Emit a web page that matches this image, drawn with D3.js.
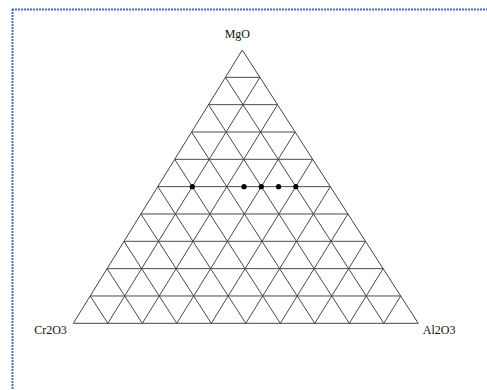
<!DOCTYPE html>
<html>
<head>
<meta charset="utf-8">
<script src="https://cdn.jsdelivr.net/npm/d3@7"></script>
<style>
  html, body { margin: 0; padding: 0; background: #ffffff; }
  svg { display: block; }
  text { font-family: "Liberation Serif", "DejaVu Serif", serif; font-size: 12px; fill: #111; }
</style>
</head>
<body>
<svg id="chart" width="487" height="390"></svg>
<script>
// Ternary composition of the plotted samples (percent)
const mgo   = [50, 50, 50, 50, 50];
const al2o3 = [10, 25, 30, 35, 40];
const cr2o3 = [40, 25, 20, 15, 10];

// Component names at the three corners
const components = ["MgO", "Cr2O3", "Al2O3"];

// Grid levels drawn for every component
const gridLevels = [10, 20, 30, 40, 50, 60, 70, 80, 90];

const svg = d3.select("#chart");
const W = 487, H = 390;

// Corner positions of the diagram
const apex  = [242.3, 50];
const left  = [73.3, 323.3];
const right = [418.3, 323.3];

// Fraction scale: percentage -> barycentric weight
const frac = d3.scaleLinear().domain([0, 100]).range([0, 1]);

// Barycentric projection (MgO top, Cr2O3 bottom-left, Al2O3 bottom-right)
function project(m, c, a) {
  const fm = frac(m), fc = frac(c), fa = frac(a);
  const s = fm + fc + fa;
  return [
    (fm * apex[0] + fc * left[0] + fa * right[0]) / s,
    (fm * apex[1] + fc * left[1] + fa * right[1]) / s
  ];
}

// Frame: dotted blue rule along the top and left edges
const frame = svg.append("g");
frame.append("line")
  .attr("x1", 12).attr("y1", 9.5).attr("x2", W).attr("y2", 9.5)
  .attr("stroke", "#4a70b8").attr("stroke-width", 2)
  .attr("stroke-dasharray", "2,1");
frame.append("line")
  .attr("x1", 12.5).attr("y1", 9).attr("x2", 12.5).attr("y2", H)
  .attr("stroke", "#4a70b8").attr("stroke-width", 2)
  .attr("stroke-dasharray", "2,1");

// Grid lines parallel to each side
const gridSegs = [];
gridLevels.forEach(t => {
  gridSegs.push([project(t, 100 - t, 0), project(t, 0, 100 - t)]);   // constant MgO
  gridSegs.push([project(100 - t, t, 0), project(0, t, 100 - t)]);   // constant Cr2O3
  gridSegs.push([project(100 - t, 0, t), project(0, 100 - t, t)]);   // constant Al2O3
});

const grid = svg.append("g")
  .attr("stroke", "#4a4a4a").attr("stroke-width", 1).attr("fill", "none");

grid.selectAll("line.grid")
  .data(gridSegs)
  .join("line")
  .attr("class", "grid")
  .attr("x1", d => d[0][0]).attr("y1", d => d[0][1])
  .attr("x2", d => d[1][0]).attr("y2", d => d[1][1]);

// Outer triangle
const corners = [project(100, 0, 0), project(0, 100, 0), project(0, 0, 100)];
grid.append("path")
  .attr("d", d3.line()(corners) + "Z")
  .attr("stroke", "#444");

// Sample points
svg.append("g")
  .selectAll("circle")
  .data(mgo.map((m, i) => project(m, cr2o3[i], al2o3[i])))
  .join("circle")
  .attr("cx", d => d[0]).attr("cy", d => d[1])
  .attr("r", 2.6)
  .attr("fill", "#000");

// Corner labels
const labels = svg.append("g");
labels.append("text")
  .attr("x", corners[0][0] - 5).attr("y", corners[0][1] - 12)
  .attr("text-anchor", "middle")
  .text(components[0]);
labels.append("text")
  .attr("x", corners[1][0] - 6.5).attr("y", corners[1][1] + 11)
  .attr("text-anchor", "end")
  .text(components[1]);
labels.append("text")
  .attr("x", corners[2][0] + 4.5).attr("y", corners[2][1] + 11)
  .attr("text-anchor", "start")
  .text(components[2]);
</script>
</body>
</html>
